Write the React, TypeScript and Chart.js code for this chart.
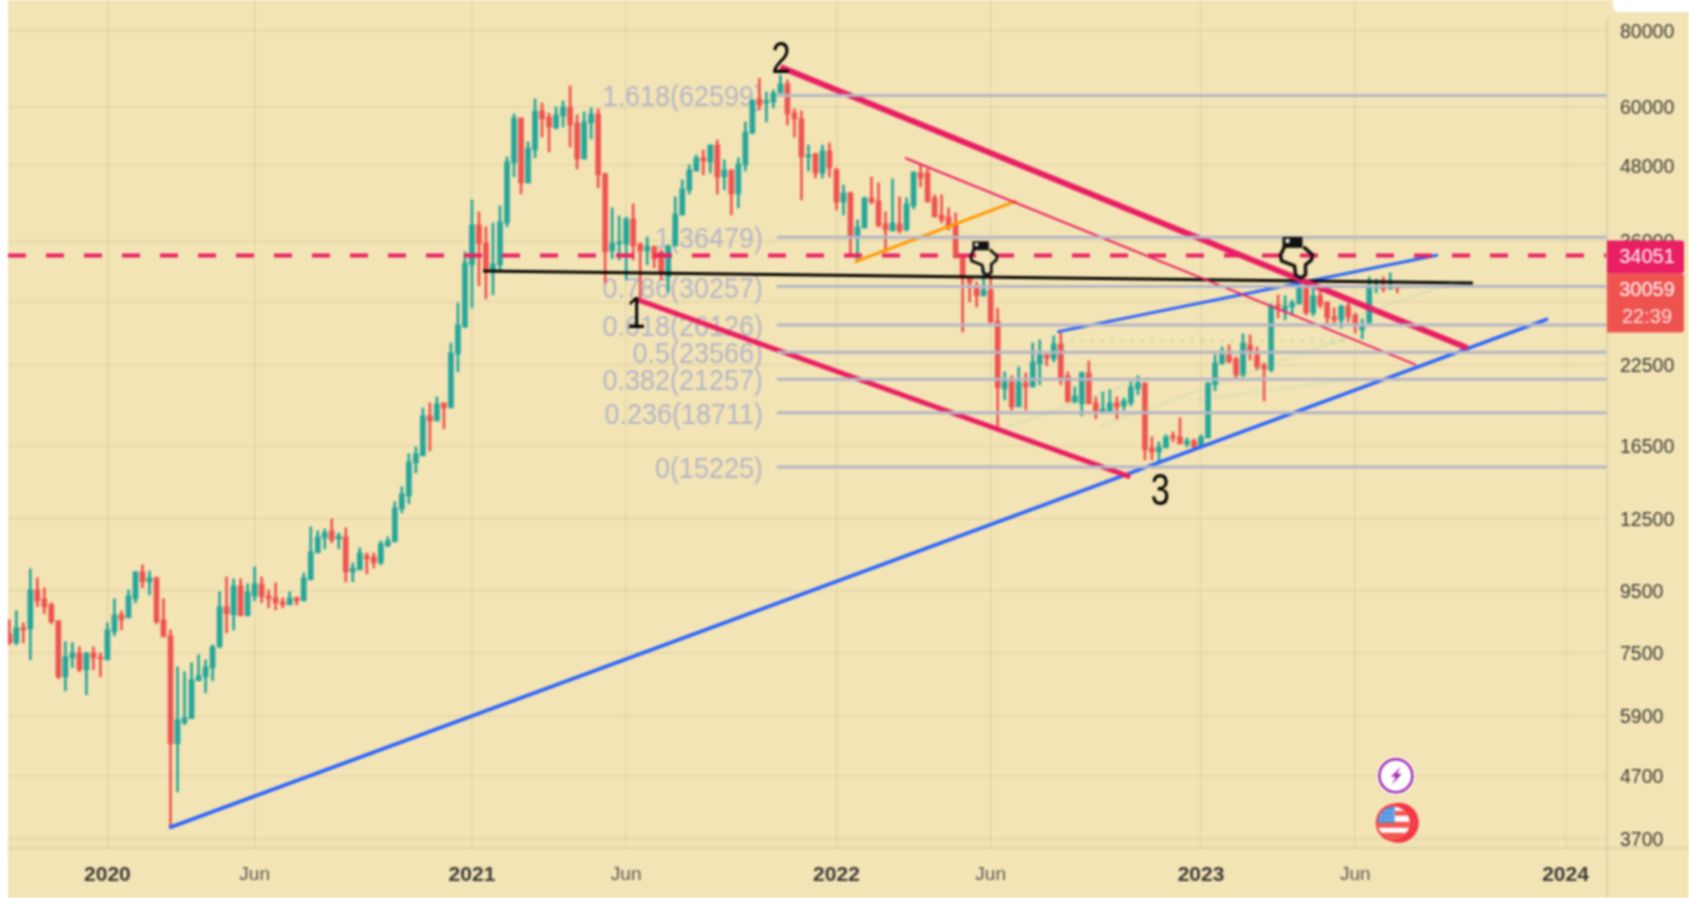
import React, { useEffect, useRef } from "react";
import { Chart, registerables } from "chart.js";

Chart.register(...registerables);

const opens = [8071,7799,8257,8225,9541,9220,9013,8479,6852,7367,
7508,7037,7508,7367,7310,8132,8676,8577,9220,10217,
9836,9985,8512,8010,5311,5753,5842,6749,6852,7091,
7682,8944,8676,9688,8643,9325,9762,9325,9255,9115,
9013,9255,9149,9910,10984,11628,11941,11584,11673,10217,
10295,10860,10818,10574,11280,11452,12985,13643,15468,15886,
18497,18146,19434,19068,23417,25950,32853,38251,35717,31986,
32853,38541,48424,57466,44876,50876,59009,57686,55322,57907,
59924,56382,49166,56382,58348,46441,34644,35584,35584,39130,
35584,34644,35182,34515,31385,35316,39722,43694,46967,49356,
48606,51857,45915,47149,43040,48058,54271,61772,60840,61068,
63190,65402,58569,57246,49545,50113,46617,50680,47149,41745,
43206,36680,37815,42376,41901,38395,37382,38395,37527,41119,
46617,46617,42376,39722,39433,38251,33868,31266,30212,29198,
29865,26545,20495,21047,19140,20967,20650,22543,23329,22980,
24325,21537,19505,19361,21783,19434,18779,18849,19434,19213,
19434,20495,20967,16376,16128,16376,17141,17075,16627,16816,
16439,17010,20813,22543,23329,22980,21618,24233,23329,22459,
22033,28192,27680,27995,28310,30100,27360,29198,28535,26950,
26650,28090,27160,25653,26345,30100,30212,29980,30100];

const closes = [7799,8257,8194,9541,9149,8944,8447,6852,7395,7508,
7037,7508,7367,7338,8194,8676,8512,9325,10217,9836,
9985,8447,7979,5311,5819,5864,6775,6879,7119,7682,
8944,8709,9688,8643,9469,9762,9290,9220,9081,9013,
9255,9149,9985,11025,11673,11852,11540,11717,10217,10374,
10984,10736,10574,11367,11495,13035,13747,15526,16007,18497,
18146,19361,19068,23505,26149,33102,38251,35584,31986,32977,
38680,48606,57466,44876,51270,59009,57246,55534,58128,59924,
55958,49166,56594,58348,46265,34515,35717,35852,39130,35316,
34644,35316,33610,31866,35316,39874,43863,47149,49356,48788,
51857,45915,47149,43040,48243,54478,61534,60384,61297,63190,
65402,58348,57246,49545,49921,46617,50680,47506,41745,43206,
36400,37962,42376,41745,38110,37527,38541,37382,41431,46790,
45738,41745,39433,38981,37962,33740,31266,30676,29198,29865,
26445,20575,21047,19140,21047,20650,22713,23329,23064,24325,
21374,19505,19960,21783,19361,18849,18995,19434,19140,19580,
20650,20967,16251,16128,16439,17075,17010,16627,16816,16439,
17075,20967,22628,23329,22713,21618,24416,23682,22283,22118,
27995,27995,28090,28430,30100,27360,29198,28192,26860,26650,
28090,26950,26345,25950,30212,30212,29980,30212,30059];

const highs = [8512,8808,8415,10335,9985,9614,9081,8479,7829,7799,
7682,7508,7682,7508,8415,9220,8808,9541,10217,10494,
10255,10022,9220,8194,7119,6984,7228,7450,7310,7740,
9469,10022,9948,9948,9762,10413,10022,9541,9799,9255,
9469,9290,10177,12126,11941,12034,12500,11852,12080,10574,
11195,10984,10984,11495,11673,13334,14119,16007,16439,19068,
19434,19875,19434,24416,28429,34515,42063,40186,37962,38541,
41119,49545,58348,57466,52449,61772,60840,58569,59924,61297,
64909,58128,58789,59696,59468,46617,40806,39584,39433,41431,
35717,36540,35316,34778,35450,42544,45389,48058,49921,50876,
51857,52849,48976,47149,49356,56594,61534,66797,63432,63918,
67680,66400,59468,59009,51857,50302,51857,52250,47506,44532,
43363,38981,42544,45915,44876,40186,45564,42544,42376,46790,
48058,47331,42880,42880,40806,40033,33868,31266,30792,32481,
31625,27880,21865,21537,22283,21783,24416,24695,23329,25077,
25363,21865,20650,21865,22798,19875,20262,20417,19875,19800,
21047,21537,20967,17075,16753,17207,17400,18357,17010,16947,
17207,20967,23329,24049,24233,23147,25267,25172,24049,22628,
28310,29310,29198,28750,31027,31027,30100,29865,28535,27895,
28192,28430,27360,26760,31385,31140,31385,31866,30212];

const lows = [7740,7740,7799,7310,8944,8709,8383,6801,6497,7091,
6984,6400,7037,6852,7310,8010,8194,8577,9081,9614,
9361,8383,7979,3858,4424,5710,5842,6749,6448,6749,
7652,8100,8194,8643,8643,9149,9081,8910,8842,8910,
9013,9013,9149,9910,10984,11152,11409,11152,9836,9836,
10295,10138,10374,10494,11238,11452,12789,13234,14890,15886,
16188,18146,17604,19068,21865,25851,27895,30330,28865,29310,
32230,37962,45915,43040,44876,49356,53420,50491,55110,55534,
51459,47331,49166,53053,44032,30676,33610,33480,31027,33480,
28865,32853,32481,31027,29643,35316,39722,43040,46967,46265,
46617,43040,43694,39722,40806,46967,54066,59237,56594,59696,
63190,55958,53420,42063,46967,45738,45738,45915,40493,39722,
33868,33221,37815,41431,37962,34515,37382,37100,37382,40650,
44200,41745,39433,38541,37527,33740,25458,28535,27995,29198,
26345,17730,19654,18920,19140,18920,20650,20813,22372,22713,
20813,19505,19434,18497,19361,18286,18707,18849,18286,18920,
19213,20036,15644,15644,15468,16376,16753,16627,16439,16314,
16439,17010,20339,22543,22628,21374,21456,22884,22033,19580,
21865,26860,26650,27160,28310,27160,27060,27895,26345,26345,
25851,26445,25363,24790,26345,29532,29643,29980,29532];

const yTicks = [80000,60000,48000,36000,28500,22500,16500,12500,9500,7500,5900,4700,3700];
const xTickIndex = [14,35,66,88,118,140,170,192,222];
const xTickLabels = ["2020","Jun","2021","Jun","2022","Jun","2023","Jun","2024"];
const fibRatios = ["1.618","1","0.786","0.618","0.5","0.382","0.236","0"];
const fibValues = [62599,36479,30257,26126,23566,21257,18711,15225];
const fibStart = 109.5;
const resistance = 34051;
const lastPrice = 30059;
const countdown = "22:39";

const blueLong = [{x:22.8,y:3858},{x:219.5,y:26750}];
const blueUpper = [{x:149.5,y:25460},{x:203.8,y:34120}];
const pinkLower = [{x:89.7,y:28754},{x:159.9,y:14664}];
const pinkUpper = [{x:110,y:69760},{x:208,y:23950}];
const pinkThin = [{x:127.8,y:49350},{x:200.7,y:22450}];
const orangeLine = [{x:120.6,y:33220},{x:143.7,y:41901}];
const blackLine = [{x:67.6,y:32106},{x:208.8,y:30670}];
const dottedFaint = [{x:150,y:24600},{x:191,y:24600}];
const faintA = [{x:142.3,y:17730},{x:162.7,y:21450}];
const faintB = [{x:155.6,y:17800},{x:191.3,y:25030}];
const faintC = [{x:169.4,y:19650},{x:191.3,y:21210}];
const faintD = [{x:188,y:26000},{x:207,y:31000}];
const waveLabels = [
  { t: "1", x: 89.4, y: 27060 },
  { t: "2", x: 110.1, y: 71372 },
  { t: "3", x: 164.2, y: 13799 },
];
const handMarks = [
  { x: 139.5, y: 31625, s: 0.82 },
  { x: 184.2, y: 31266, s: 1 },
];
const boltMark = { x: 197.8, y: 4702 };
const flagMark = { x: 197.5, y: 3932 };

const BG = "#f3e4b5";
const UP = "#26a69a";
const DOWN = "#ef5350";
const PINK = "#e91e63";
const BLUE = "#2962ff";
const GRID = "rgba(120,110,70,0.11)";
const BORDER = "#d9cda4";
const FIB = "#b4b6c6";

function line(data: any[], color: string, width: number, dash?: number[]) {
  return {
    type: "line",
    data,
    borderColor: color,
    borderWidth: width,
    borderDash: dash || [],
    pointRadius: 0,
    fill: false,
    order: 0,
    borderCapStyle: "butt",
  };
}

const drawingsPlugin = {
  id: "drawings",
  beforeDraw(chart: any) {
    const c = chart.ctx;
    c.save();
    c.fillStyle = BG;
    c.fillRect(0, 0, chart.width, chart.height);
    c.restore();
  },
  beforeDatasetsDraw(chart: any) {
    const c = chart.ctx;
    const { y } = chart.scales;
    c.save();
    c.font = '29px "Liberation Sans"';
    c.fillStyle = FIB;
    c.textAlign = "right";
    c.textBaseline = "middle";
    const tx = chart.scales.x.getPixelForValue(fibStart) - 14;
    fibRatios.forEach((r, i) => {
      c.save();
      c.translate(tx, y.getPixelForValue(fibValues[i]) + 3);
      c.scale(0.93, 1);
      c.fillText(`${r}(${fibValues[i]})`, 0, 0);
      c.restore();
    });
    c.restore();
  },
  afterDatasetsDraw(chart: any) {
    const c = chart.ctx;
    const { x, y } = chart.scales;
    c.save();
    // wave numbers
    c.fillStyle = "#000";
    c.font = '44px "Liberation Sans"';
    c.textAlign = "center";
    c.textBaseline = "middle";
    waveLabels.forEach((w) => {
      c.save();
      c.translate(x.getPixelForValue(w.x), y.getPixelForValue(w.y));
      c.scale(0.78, 1);
      c.fillText(w.t, 0, 0);
      c.restore();
    });
    // hands
    handMarks.forEach((h) => {
      const px = x.getPixelForValue(h.x);
      const py = y.getPixelForValue(h.y);
      c.save();
      c.translate(px, py);
      c.scale(h.s, h.s);
      c.strokeStyle = "#111";
      c.lineWidth = 3.5;
      c.lineJoin = "round";
      c.beginPath();
      c.moveTo(-16, -31);
      c.lineTo(-20, -23);
      c.lineTo(-19, -17);
      c.lineTo(-6, -12);
      c.lineTo(-5, -3);
      c.lineTo(0, 0);
      c.lineTo(5, -3);
      c.lineTo(5, -13);
      c.lineTo(11, -18);
      c.lineTo(12, -23);
      c.lineTo(3, -31);
      c.stroke();
      c.fillStyle = "#111";
      c.fillRect(-18, -41, 20, 11);
      c.fillStyle = "#f3efe0";
      c.fillRect(-15, -39, 4, 4);
      c.restore();
    });
    // bolt event
    {
      const px = x.getPixelForValue(boltMark.x);
      const py = y.getPixelForValue(boltMark.y);
      c.beginPath();
      c.arc(px, py, 19, 0, Math.PI * 2);
      c.fillStyle = "#fff";
      c.fill();
      c.beginPath();
      c.arc(px, py, 16.5, 0, Math.PI * 2);
      c.strokeStyle = "#9c27b0";
      c.lineWidth = 2.5;
      c.stroke();
      c.beginPath();
      c.moveTo(px + 5, py - 9);
      c.lineTo(px - 5, py + 1);
      c.lineTo(px, py + 1);
      c.lineTo(px - 4, py + 9);
      c.lineTo(px + 6, py - 2);
      c.lineTo(px + 1, py - 2);
      c.closePath();
      c.fillStyle = "#9c27b0";
      c.fill();
    }
    // flag event
    {
      const px = x.getPixelForValue(flagMark.x);
      const py = y.getPixelForValue(flagMark.y);
      const ring = (ox: number, r: number) => {
        c.beginPath();
        c.arc(px + ox, py, r, 0, Math.PI * 2);
        c.fillStyle = "#f23645";
        c.fill();
      };
      ring(5, 20);
      c.beginPath();
      c.arc(px + 3, py, 17, 0, Math.PI * 2);
      c.fillStyle = "#fff";
      c.fill();
      ring(1, 19);
      c.beginPath();
      c.arc(px, py, 16, 0, Math.PI * 2);
      c.fillStyle = "#fff";
      c.fill();
      c.save();
      c.clip();
      c.fillStyle = "#f4574e";
      c.fillRect(px - 17, py - 1, 34, 6);
      c.fillRect(px - 17, py + 10, 34, 7);
      c.fillRect(px + 1, py - 12, 16, 5);
      c.fillStyle = "#4b92e0";
      c.fillRect(px - 17, py - 17, 18, 17);
      c.fillStyle = "#cfe3f7";
      for (let a = 0; a < 3; a++)
        for (let b = 0; b < 4; b++) c.fillRect(px - 13 + b * 4, py - 12 + a * 4, 1.5, 1.5);
      c.restore();
    }
    c.restore();
  },
  afterDraw(chart: any) {
    const c = chart.ctx;
    const { y } = chart.scales;
    const right = chart.chartArea.right;
    const bottom = chart.chartArea.bottom;
    c.save();
    // axis frames
    c.strokeStyle = BORDER;
    c.lineWidth = 1.5;
    c.beginPath();
    c.moveTo(right, 18);
    c.lineTo(right, chart.height);
    c.moveTo(0, bottom);
    c.lineTo(chart.width, bottom);
    c.stroke();
    // price tags
    const tagW = 77;
    const resY = y.getPixelForValue(resistance);
    const tagSplit = resY + 18;
    c.fillStyle = DOWN;
    c.beginPath();
    c.roundRect(right, tagSplit, tagW, 59, [0, 3, 3, 0]);
    c.fill();
    c.fillStyle = PINK;
    c.beginPath();
    c.roundRect(right, resY - 15, tagW, 33, [0, 3, 3, 0]);
    c.fill();
    c.fillStyle = "#fff";
    c.font = '20px "Liberation Sans"';
    c.textAlign = "center";
    c.textBaseline = "middle";
    c.fillText(String(resistance), right + 40, resY + 2);
    c.fillText(String(lastPrice), right + 40, tagSplit + 17);
    c.fillStyle = "#fbe0dc";
    c.fillText(countdown, right + 40, tagSplit + 44);
    // top-right white notch of the screenshot
    c.fillStyle = "#fff";
    c.beginPath();
    c.roundRect(right + 6, -10, 90, 22, 6);
    c.fill();
    c.restore();
  },
};

export default function App() {
  const ref = useRef<HTMLCanvasElement>(null);
  useEffect(() => {
    const idx = closes.map((_, i) => i);
    const colors = idx.map((i) => (closes[i] >= opens[i] ? UP : DOWN));
    const chart = new Chart(ref.current as HTMLCanvasElement, {
      type: "bar",
      data: {
        datasets: [
          ...fibValues.map((v) =>
            line([{ x: fibStart, y: v }, { x: 227.92, y: v }], FIB, 3)
          ),
          line([{ x: -0.185, y: resistance }, { x: 227.92, y: resistance }], PINK, 4, [18, 20]),
          line(faintA, "rgba(110,200,170,0.13)", 3),
          line(faintB, "rgba(110,200,170,0.13)", 3),
          line(faintC, "rgba(110,200,170,0.13)", 3),
          line(faintD, "rgba(110,200,170,0.13)", 3),
          line(dottedFaint, "rgba(130,200,130,0.32)", 3, [3, 7]),
          line(pinkThin, PINK, 2),
          line(pinkLower, PINK, 5),
          line(pinkUpper, PINK, 6),
          line(orangeLine, "#ff9800", 3),
          line(blackLine, "#000", 3),
          line(blueLong, BLUE, 3.5),
          line(blueUpper, BLUE, 3),
          {
            type: "bar",
            data: idx.map((i) => ({ x: i, y: [lows[i], highs[i]] })),
            backgroundColor: colors,
            barThickness: 2,
            grouped: false,
            order: 3,
          },
          {
            type: "bar",
            data: idx.map((i) => ({ x: i, y: [opens[i], closes[i]] })),
            backgroundColor: colors,
            barThickness: 5,
            minBarLength: 2,
            grouped: false,
            order: 2,
          },
        ] as any,
      },
      options: {
        responsive: false,
        animation: false,
        layout: { padding: 0, autoPadding: false },
        plugins: { legend: { display: false }, tooltip: { enabled: false }, title: { display: false } },
        events: [],
        scales: {
          x: {
            type: "linear",
            min: -0.185,
            max: 227.92,
            offset: false,
            grid: { offset: false, color: GRID, drawTicks: false, lineWidth: 1.5 },
            border: { display: false },
            afterBuildTicks(scale: any) {
              scale.ticks = xTickIndex.map((v) => ({ value: v }));
            },
            afterFit(scale: any) {
              scale.height = 50;
              scale.paddingLeft = 0;
              scale.paddingRight = 0;
            },
            ticks: {
              autoSkip: false,
              maxRotation: 0,
              padding: 15,
              callback: (_v: any, i: number) => xTickLabels[i],
              font: (ctx: any) =>
                xTickLabels[ctx.index] === "Jun"
                  ? { family: '"Liberation Sans"', size: 19 }
                  : { family: '"Liberation Sans"', size: 21, weight: "bold" },
              color: (ctx: any) => (xTickLabels[ctx.index] === "Jun" ? "#5a5a55" : "#3a3a36"),
            },
          },
          y: {
            type: "logarithmic",
            position: "right",
            bounds: "data",
            min: 3572,
            max: 90016,
            beginAtZero: false,
            grid: { color: GRID, drawTicks: false, lineWidth: 1.5 },
            border: { display: false },
            afterBuildTicks(scale: any) {
              scale.ticks = yTicks.map((v) => ({ value: v }));
            },
            afterFit(scale: any) {
              scale.width = 82;
              scale.paddingTop = 0;
              scale.paddingBottom = 0;
            },
            ticks: {
              autoSkip: false,
              padding: 13,
              labelOffset: 2,
              callback: (v: any) => String(v),
              font: { family: '"Liberation Sans"', size: 19.5 },
              color: "#3a3a36",
            },
          },
        },
      } as any,
      plugins: [drawingsPlugin],
    });
    return () => chart.destroy();
  }, []);
  return (
    <canvas
      ref={ref}
      width={1681}
      height={898}
      style={{ position: "absolute", left: 8, top: 0, width: 1681, height: 898, filter: "blur(0.85px)" }}
    />
  );
}
